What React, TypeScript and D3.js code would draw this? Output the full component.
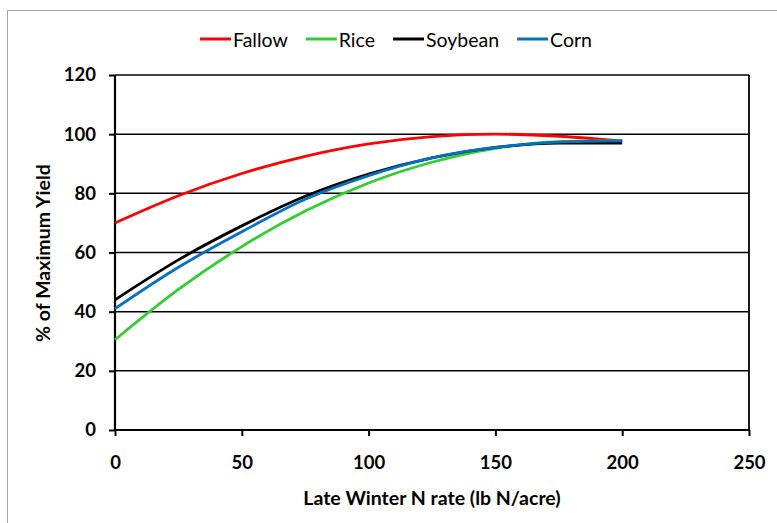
import React, { useEffect, useRef } from "react";
import * as d3 from "d3";

const nRates = [0, 25, 50, 75, 100, 125, 150, 175, 200];
// % of maximum yield per previous crop
const fallow = [70, 79.2, 86.7, 92.5, 96.7, 99.2, 100, 99.3, 97.6];
const rice = [30.5, 47.5, 62, 74, 83.5, 90.5, 95.2, 97.5, 97.8];
const soybean = [44, 57.5, 69, 79, 86.5, 92, 95.5, 97, 97];
const corn = [41, 55, 67, 78, 86, 92, 95.5, 97.3, 97.7];

const seriesNames = ["Fallow", "Rice", "Soybean", "Corn"];
const seriesColors = ["#ff0000", "#33cc33", "#000000", "#0070c0"];

const xTicks = [0, 50, 100, 150, 200, 250];
const yTicks = [0, 20, 40, 60, 80, 100, 120];

const FONT = "Lato, 'Open Sans', sans-serif";

const App: React.FC = () => {
  const ref = useRef<SVGSVGElement | null>(null);

  useEffect(() => {
    document.body.style.margin = "0";
    if (!ref.current) return;
    const width = 777;
    const height = 523;
    const svg = d3.select(ref.current);
    svg.selectAll("*").remove();
    svg.attr("width", width).attr("height", height);

    svg.append("rect").attr("width", width).attr("height", height).attr("fill", "#fff");
    // outer chart frame (runs off the right/bottom edges)
    svg.append("rect")
      .attr("x", 7.5).attr("y", 10.5)
      .attr("width", width + 20).attr("height", height + 20)
      .attr("fill", "none").attr("stroke", "#a6a6a6").attr("stroke-width", 1);

    const x = d3.scaleLinear().domain([0, 250]).range([115, 749]);
    const y = d3.scaleLinear().domain([0, 120]).range([430, 75]);

    // horizontal gridlines
    yTicks.filter(t => t > 0).forEach(t => {
      svg.append("line")
        .attr("x1", x(0)).attr("x2", x(250))
        .attr("y1", y(t)).attr("y2", y(t))
        .attr("stroke", "#000").attr("stroke-width", 1.5);
    });
    // right border of plot area
    svg.append("line")
      .attr("x1", x(250)).attr("x2", x(250))
      .attr("y1", y(120)).attr("y2", y(0))
      .attr("stroke", "#000").attr("stroke-width", 1.8);

    // y axis
    const yAxis = svg.append("g").attr("transform", `translate(${x(0)},0)`)
      .call(d3.axisLeft(y).tickValues(yTicks).tickSize(6).tickPadding(13));
    // x axis
    const xAxis = svg.append("g").attr("transform", `translate(0,${y(0)})`)
      .call(d3.axisBottom(x).tickValues(xTicks).tickSize(6).tickPadding(20));

    [yAxis, xAxis].forEach(a => {
      a.select(".domain").attr("stroke", "#000").attr("stroke-width", 2.2);
      a.selectAll(".tick line").attr("stroke", "#000").attr("stroke-width", 2);
      a.selectAll(".tick text")
        .attr("fill", "#000")
        .attr("font-family", FONT)
        .attr("font-weight", "bold")
        .attr("font-size", 18.5);
    });
    xAxis.select(".domain").attr("d", `M${x(0)},0H${x(250)}`);
    yAxis.select(".domain").attr("d", `M0,${y(0)}V${y(120)}`);

    // axis titles
    svg.append("text")
      .attr("x", 432).attr("y", 497)
      .attr("text-anchor", "middle").attr("dominant-baseline", "central")
      .attr("font-family", FONT).attr("font-weight", "bold").attr("font-size", 19.5)
      .text("Late Winter N rate (lb N/acre)");
    svg.append("text")
      .attr("transform", "translate(42,253) rotate(-90)")
      .attr("text-anchor", "middle").attr("dominant-baseline", "central")
      .attr("font-family", FONT).attr("font-weight", "bold").attr("font-size", 19.5)
      .text("% of Maximum Yield");

    // curves
    const allSeries = [fallow, rice, soybean, corn];
    const line = d3.line<number>()
      .x((_, i) => x(nRates[i]))
      .y(d => y(d))
      .curve(d3.curveMonotoneX);
    allSeries.forEach((vals, i) => {
      svg.append("path")
        .attr("d", line(vals) || "")
        .attr("fill", "none")
        .attr("stroke", seriesColors[i])
        .attr("stroke-width", 2.8);
    });

    // legend
    const legend = svg.append("g");
    let cx = 0;
    seriesNames.forEach((name, i) => {
      const item = legend.append("g").attr("transform", `translate(${cx},0)`);
      item.append("line")
        .attr("x1", 0).attr("x2", 31).attr("y1", 0).attr("y2", 0)
        .attr("stroke", seriesColors[i]).attr("stroke-width", 3);
      const t = item.append("text")
        .attr("x", 33).attr("y", 0)
        .attr("dominant-baseline", "central")
        .attr("font-family", FONT).attr("font-size", 19.5)
        .text(name);
      const w = (t.node() as SVGTextElement).getComputedTextLength();
      cx += 33 + w + 18;
    });
    const total = cx - 18;
    legend.attr("transform", `translate(${396 - total / 2},39)`);
  }, []);

  return <svg ref={ref} style={{ display: "block" }} />;
};

export default App;
